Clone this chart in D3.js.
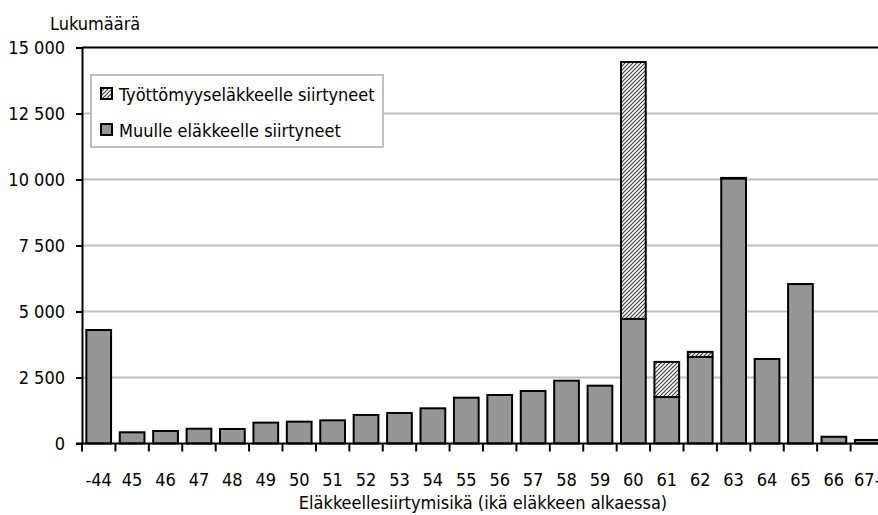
<!DOCTYPE html>
<html>
<head>
<meta charset="utf-8">
<script src="https://cdn.jsdelivr.net/npm/d3@7"></script>
<style>
  body { margin: 0; background: #fff; }
  text { font-family: "DejaVu Sans Condensed", "DejaVu Sans", sans-serif; font-stretch: condensed; fill: #000; }
</style>
</head>
<body>
<script>
// chart data
var ages = ["-44", "45", "46", "47", "48", "49", "50", "51", "52", "53", "54", "55",
            "56", "57", "58", "59", "60", "61", "62", "63", "64", "65", "66", "67-"];
// "Muulle eläkkeelle siirtyneet"
var otherPension = [4300, 424, 473, 560, 550, 790, 827, 878, 1080, 1155, 1333, 1735,
                    1837, 1990, 2380, 2190, 4720, 1760, 3280, 10040, 3200, 6040, 255, 135];
// "Työttömyyseläkkeelle siirtyneet"
var unemploymentPension = [0, 0, 0, 0, 0, 0, 0, 0, 0, 0, 0, 0,
                           0, 0, 0, 0, 9730, 1330, 190, 20, 0, 0, 0, 0];
var yTicks = [0, 2500, 5000, 7500, 10000, 12500, 15000];
var seriesNames = ["Työttömyyseläkkeelle siirtyneet", "Muulle eläkkeelle siirtyneet"];

var svg = d3.select("body").append("svg").attr("width", 878).attr("height", 515),
    plotLeft = 82, plotRight = 884, plotTop = 47.5, plotBottom = 443.5,
    fontSize = "18px";

var fi = d3.formatLocale({decimal: ",", thousands: " ", grouping: [3], currency: ["", ""]});
var fmt = fi.format(",d");

// hatch pattern for the unemployment pension part
var pat = svg.append("defs").append("pattern")
    .attr("id", "hatch")
    .attr("patternUnits", "userSpaceOnUse")
    .attr("width", 4).attr("height", 4);
pat.append("rect").attr("width", 4).attr("height", 4).attr("fill", "#fff");
pat.append("path")
    .attr("d", "M-1,1 l2,-2 M0,4 l4,-4 M3,5 l2,-2")
    .attr("stroke", "#444").attr("stroke-width", 1.2);

var x = d3.scaleBand().domain(ages).range([plotLeft, plotRight]).paddingInner(0.26).paddingOuter(0.13);
var y = d3.scaleLinear().domain([0, 15000]).range([plotBottom, plotTop]);

// grid lines
svg.append("g").selectAll("line")
    .data(yTicks.filter(function(d) { return d > 0; }))
    .enter().append("line")
    .attr("x1", plotLeft).attr("x2", plotRight)
    .attr("y1", function(d) { return y(d); }).attr("y2", function(d) { return y(d); })
    .attr("stroke", function(d) { return d === 15000 ? "#000" : "#c0c0c0"; })
    .attr("stroke-width", 2);

// y axis
var yAxis = svg.append("g")
    .attr("transform", "translate(" + plotLeft + ",0)")
    .call(d3.axisLeft(y).tickValues(yTicks).tickFormat(fmt).tickSize(6).tickPadding(11));
yAxis.select(".domain").attr("stroke-width", 2);
yAxis.selectAll(".tick line").attr("stroke-width", 2);
yAxis.selectAll("text").style("font-size", fontSize).attr("fill", "#000")
    .style("font-family", null);

// bars
var rows = ages.map(function(a, i) {
  return {age: a, other: otherPension[i], unemp: unemploymentPension[i]};
});
var bars = svg.append("g");
bars.selectAll(".other").data(rows).enter().append("rect")
    .attr("class", "other")
    .attr("x", function(d) { return x(d.age); })
    .attr("width", x.bandwidth())
    .attr("y", function(d) { return y(d.other); })
    .attr("height", function(d) { return y(0) - y(d.other); })
    .attr("fill", "#969696").attr("stroke", "#000").attr("stroke-width", 2);
bars.selectAll(".unemp").data(rows.filter(function(d) { return d.unemp > 0; })).enter().append("rect")
    .attr("class", "unemp")
    .attr("x", function(d) { return x(d.age); })
    .attr("width", x.bandwidth())
    .attr("y", function(d) { return y(d.other + d.unemp); })
    .attr("height", function(d) { return y(d.other) - y(d.other + d.unemp); })
    .attr("fill", "url(#hatch)").attr("stroke", "#000").attr("stroke-width", 2);

// x axis: ticks on band boundaries
var step = x.step();
var xg = svg.append("g");
xg.append("line").attr("x1", plotLeft - 6).attr("x2", plotRight)
    .attr("y1", plotBottom).attr("y2", plotBottom).attr("stroke", "#000").attr("stroke-width", 2);
xg.selectAll(".xt").data(ages).enter().append("line")
    .attr("x1", function(d, i) { return plotLeft + i * step; })
    .attr("x2", function(d, i) { return plotLeft + i * step; })
    .attr("y1", plotBottom).attr("y2", plotBottom + 8)
    .attr("stroke", "#000").attr("stroke-width", 2);
xg.selectAll(".xl").data(ages).enter().append("text")
    .attr("x", function(d) { return x(d) + x.bandwidth() / 2; })
    .attr("y", 486)
    .attr("text-anchor", "middle")
    .style("font-size", fontSize)
    .text(function(d) { return d; });

// axis titles
svg.append("text").attr("x", (plotLeft + plotRight) / 2).attr("y", 509)
    .attr("text-anchor", "middle").style("font-size", fontSize)
    .text("Eläkkeellesiirtymisikä (ikä eläkkeen alkaessa)");
svg.append("text").attr("x", 50).attr("y", 30)
    .style("font-size", fontSize).text("Lukumäärä");

// legend
var lg = svg.append("g");
lg.append("rect").attr("x", 91).attr("y", 75).attr("width", 292).attr("height", 72)
    .attr("fill", "#fff").attr("stroke", "#c0c0c0").attr("stroke-width", 2);
var items = lg.selectAll(".item").data(seriesNames).enter().append("g")
    .attr("transform", function(d, i) { return "translate(101," + (88 + i * 36) + ")"; });
items.append("rect").attr("width", 11).attr("height", 11)
    .attr("fill", function(d, i) { return i === 0 ? "url(#hatch)" : "#969696"; })
    .attr("stroke", "#000").attr("stroke-width", 2);
items.append("text").attr("x", 18).attr("y", 12.5)
    .style("font-size", fontSize).text(function(d) { return d; });
</script>
</body>
</html>
